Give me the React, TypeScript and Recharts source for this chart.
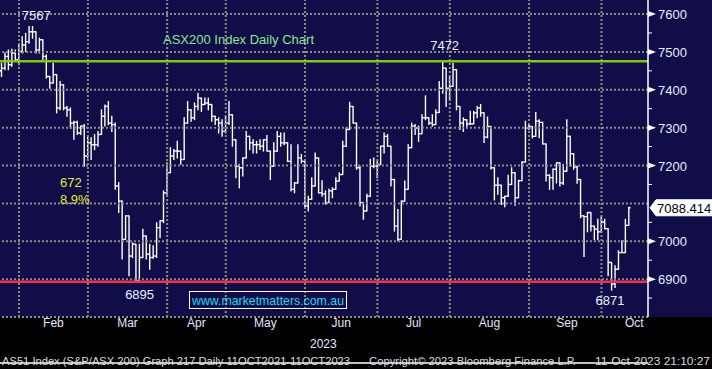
import React from 'react';
import { ComposedChart, Bar, XAxis, YAxis, ReferenceLine, ReferenceDot } from 'recharts';

const opens = [7450,7457,7488,7466,7497,7479,7501,7518,7527,7553,7553,7505,7532,7488,7435,7418,7440,7352,7413,7352,7347,7312,7314,7286,7304,7225,7260,7255,7255,7282,7330,7356,7312,7308,7146,7106,7005,7067,6961,6992,6895,6957,7014,6966,6957,6961,7036,7054,7128,7181,7225,7238,7238,7216,7312,7347,7326,7356,7378,7361,7365,7361,7330,7321,7312,7290,7312,7334,7268,7198,7194,7220,7277,7260,7255,7255,7251,7268,7238,7198,7238,7277,7260,7260,7211,7137,7154,7220,7211,7093,7111,7146,7220,7128,7125,7102,7133,7137,7159,7176,7251,7295,7356,7312,7194,7102,7080,7119,7198,7198,7203,7251,7277,7251,7163,7040,7005,7106,7137,7247,7304,7299,7284,7326,7326,7312,7308,7340,7404,7457,7404,7409,7453,7356,7312,7321,7310,7310,7339,7352,7339,7275,7303,7194,7148,7148,7115,7119,7150,7181,7115,7160,7209,7299,7303,7277,7317,7314,7257,7174,7168,7190,7207,7154,7185,7277,7231,7196,7163,7067,7065,7076,7040,7032,7025,7051,7033,6944,6887,6926,6970,6970,7042];
const highs = [7470,7497,7505,7507,7505,7518,7540,7549,7567,7567,7553,7536,7532,7492,7435,7470,7440,7422,7413,7356,7352,7317,7317,7304,7308,7277,7273,7282,7290,7347,7360,7369,7330,7312,7155,7106,7067,7067,6996,6992,6992,7032,7014,6992,6988,7049,7054,7133,7207,7247,7242,7264,7238,7326,7369,7347,7365,7391,7378,7378,7378,7361,7330,7326,7321,7330,7369,7334,7268,7203,7220,7290,7277,7268,7264,7268,7268,7279,7238,7260,7290,7286,7286,7260,7255,7154,7255,7229,7211,7119,7168,7233,7220,7160,7133,7137,7141,7168,7181,7264,7299,7367,7356,7312,7198,7102,7124,7216,7220,7211,7251,7286,7282,7251,7163,7084,7106,7159,7255,7312,7308,7304,7334,7384,7326,7334,7347,7422,7472,7457,7435,7470,7453,7356,7326,7321,7343,7343,7356,7361,7339,7328,7303,7194,7168,7148,7119,7174,7194,7181,7161,7210,7317,7308,7303,7340,7321,7314,7257,7176,7191,7207,7207,7203,7321,7277,7231,7198,7163,7067,7076,7076,7040,7058,7065,7058,7033,6944,6935,6975,7001,7058,7090];
const lows = [7435,7453,7453,7462,7475,7466,7497,7501,7523,7536,7497,7497,7479,7431,7404,7418,7339,7347,7347,7330,7299,7269,7282,7282,7198,7220,7216,7242,7251,7282,7304,7308,7290,7137,7076,6953,7005,6909,6957,6895,6895,6957,6953,6926,6955,6957,7010,7049,7124,7181,7216,7220,7203,7216,7312,7317,7321,7347,7343,7361,7347,7317,7308,7286,7277,7286,7308,7251,7168,7141,7172,7220,7242,7233,7233,7242,7238,7238,7163,7198,7238,7251,7255,7211,7133,7128,7154,7207,7089,7080,7111,7146,7128,7119,7098,7102,7115,7137,7159,7176,7251,7295,7312,7190,7093,7058,7080,7119,7194,7168,7203,7233,7251,7146,7027,7001,7005,7106,7137,7247,7282,7264,7284,7321,7308,7304,7308,7340,7391,7356,7374,7409,7347,7295,7290,7299,7308,7310,7326,7330,7261,7273,7191,7109,7124,7097,7091,7118,7150,7095,7115,7160,7209,7295,7273,7277,7273,7257,7159,7137,7137,7154,7146,7150,7185,7198,7190,7153,7062,6960,7025,7027,7004,7004,7023,7033,6909,6871,6878,6926,6970,6970,7042];
const closes = [7457,7488,7466,7497,7479,7501,7518,7527,7553,7553,7505,7532,7488,7435,7418,7440,7352,7413,7352,7347,7312,7314,7286,7304,7225,7260,7255,7255,7282,7330,7356,7312,7308,7146,7106,7005,7067,6961,6992,6895,6957,7014,6966,6957,6961,7036,7054,7128,7181,7225,7238,7238,7216,7312,7347,7326,7356,7378,7361,7365,7361,7330,7321,7312,7290,7312,7334,7268,7198,7194,7220,7277,7260,7255,7255,7251,7268,7238,7198,7238,7277,7260,7260,7211,7137,7154,7220,7211,7093,7111,7146,7220,7128,7125,7102,7133,7137,7159,7176,7251,7295,7356,7312,7194,7102,7080,7119,7198,7198,7203,7251,7277,7251,7163,7040,7005,7106,7137,7247,7304,7299,7284,7326,7326,7312,7308,7340,7404,7457,7404,7409,7453,7356,7312,7321,7310,7310,7339,7352,7339,7275,7303,7194,7148,7148,7115,7119,7150,7181,7115,7160,7209,7299,7303,7277,7317,7314,7257,7174,7168,7190,7207,7154,7185,7277,7231,7196,7163,7067,7065,7076,7040,7032,7025,7051,7033,6944,6887,6926,6970,6970,7042,7088.414];

const monthStarts = [5, 25, 48, 65, 88, 109, 130, 153, 174];
const monthLabelPos = [15, 36.5, 56.5, 76.5, 98.5, 119.5, 141.5, 164, 183.5];
const monthNames = ['Feb', 'Mar', 'Apr', 'May', 'Jun', 'Jul', 'Aug', 'Sep', 'Oct'];
const yMajor = [6800, 6900, 7000, 7100, 7200, 7300, 7400, 7500, 7600];
const yAxisTicks = [6850, 6900, 6950, 7000, 7050, 7100, 7150, 7200, 7250, 7300, 7350, 7400, 7450, 7500, 7550, 7600];
const resistance = 7475;
const support = 6893;
const lastValue = closes[closes.length - 1];

const data = closes.map((c, i) => ({
  i,
  open: opens[i],
  high: highs[i],
  low: lows[i],
  close: c,
  range: [lows[i], highs[i]],
}));

const FONT = '"Liberation Sans", Arial, sans-serif';

const OhlcShape = (props: any) => {
  const { x, y, width, height, payload } = props;
  if (x == null || y == null || !payload) return null;
  const top = Math.min(y, y + height);
  const h = Math.abs(height);
  const cx = x + width / 2;
  const span = payload.high - payload.low;
  const toY = (v: number) => (span === 0 ? top : top + ((payload.high - v) / span) * h);
  const t = 1.75;
  const yo = toY(payload.open);
  const yc = toY(payload.close);
  return (
    <g stroke="#ffffff" strokeWidth={1.4}>
      <line x1={cx} x2={cx} y1={top - 0.5} y2={top + h + 0.5} />
      <line x1={cx - t} x2={cx} y1={yo} y2={yo} />
      <line x1={cx} x2={cx + t} y1={yc} y2={yc} />
    </g>
  );
};

const YTick = (props: any) => {
  const { x, y, payload } = props;
  const v = payload.value;
  if (v === lastValue) {
    return (
      <g>
        <polygon
          points={`${x + 2},${y} ${x + 8},${y - 8} ${x + 64},${y - 8} ${x + 64},${y + 8} ${x + 8},${y + 8}`}
          fill="#ffffff"
          stroke="#ffffff"
        />
        <text x={x + 9} y={y + 5} fontSize={13} fill="#000" fontFamily={FONT}>
          {v.toFixed(3)}
        </text>
      </g>
    );
  }
  // ticks hidden behind the last-value box
  if (Math.abs(v - lastValue) < 25) return null;
  if (v % 100 === 0) {
    return (
      <g>
        <polygon points={`${x},${y - 3} ${x},${y + 3} ${x + 8},${y}`} fill="#ffffff" />
        <text x={x + 10} y={y + 5} fontSize={13} fill="#e6ecff" fontFamily={FONT}>
          {v}
        </text>
      </g>
    );
  }
  return <line x1={x} x2={x + 4} y1={y} y2={y} stroke="#ffffff" strokeWidth={1} />;
};

const MonthTick = (props: any) => {
  const { x, y, payload } = props;
  const idx = monthLabelPos.indexOf(payload.value);
  return (
    <text x={x} y={y + 9.5} textAnchor="middle" fontSize={12} fill="#e0e6ff" fontFamily={FONT}>
      {monthNames[idx]}
    </text>
  );
};

const dotted = { stroke: '#8c8c8c', strokeWidth: 2, strokeDasharray: '2 2' };

export default function App() {
  return (
    <div
      style={{
        position: 'absolute',
        left: 0,
        top: 0,
        width: 712,
        height: 369,
        background: 'linear-gradient(#100d48 0px, #100d48 317px, #000000 317px, #000000 369px)',
        overflow: 'hidden',
      }}
    >
      <ComposedChart width={712} height={369} data={data} margin={{ top: 0, right: 0, bottom: 0, left: 0 }}>
        <XAxis
          xAxisId="x"
          dataKey="i"
          type="number"
          domain={[-0.5, 187.5]}
          allowDataOverflow
          ticks={monthStarts}
          tick={false}
          tickSize={4}
          tickLine={{ stroke: '#ffffff' }}
          axisLine={{ stroke: '#ffffff', strokeWidth: 1.5 }}
          height={6}
        />
        <XAxis
          xAxisId="lbl"
          dataKey="i"
          type="number"
          domain={[-0.5, 187.5]}
          allowDataOverflow
          ticks={monthLabelPos}
          tick={<MonthTick />}
          tickSize={0}
          tickMargin={0}
          tickLine={false}
          axisLine={false}
          height={46}
        />
        <YAxis
          yAxisId="y"
          orientation="right"
          type="number"
          domain={[6800, 7637]}
          allowDataOverflow
          ticks={[...yAxisTicks, lastValue]}
          tick={<YTick />}
          tickSize={0}
          tickMargin={0}
          tickLine={false}
          axisLine={{ stroke: '#ffffff', strokeWidth: 1.5 }}
          width={64}
          interval={0}
        />
        {yMajor.map((v) => (
          <ReferenceLine key={'h' + v} xAxisId="x" yAxisId="y" y={v} {...dotted} />
        ))}
        {monthStarts.map((v) => (
          <ReferenceLine key={'v' + v} xAxisId="x" yAxisId="y" x={v} {...dotted} />
        ))}
        <ReferenceLine xAxisId="x" yAxisId="y" y={resistance} stroke="#80cc00" strokeWidth={2.5} />
        <ReferenceLine xAxisId="x" yAxisId="y" y={support} stroke="#ff2a4a" strokeWidth={2.5} />
        <Bar
          xAxisId="x"
          yAxisId="y"
          dataKey="range"
          barSize={3}
          isAnimationActive={false}
          shape={(p: any) => <OhlcShape {...p} />}
        />
        <ReferenceDot
          xAxisId="x"
          yAxisId="y"
          x={10}
          y={7567}
          r={0}
          fill="none"
          stroke="none"
          label={{ value: '7567', position: 'top', offset: 7, fill: '#e8f0ff', fontSize: 13, fontFamily: FONT }}
        />
        <ReferenceDot
          xAxisId="x"
          yAxisId="y"
          x={128.5}
          y={7472}
          r={0}
          fill="none"
          stroke="none"
          label={{ value: '7472', position: 'top', offset: 12, fill: '#e8f0ff', fontSize: 13, fontFamily: FONT }}
        />
        <ReferenceDot
          xAxisId="x"
          yAxisId="y"
          x={40}
          y={6895}
          r={0}
          fill="none"
          stroke="none"
          label={{ value: '6895', position: 'bottom', offset: 9, fill: '#e8f0ff', fontSize: 13, fontFamily: FONT }}
        />
        <ReferenceDot
          xAxisId="x"
          yAxisId="y"
          x={176.5}
          y={6871}
          r={0}
          fill="none"
          stroke="none"
          label={{ value: '6871', position: 'bottom', offset: 6, fill: '#e8f0ff', fontSize: 13, fontFamily: FONT }}
        />
      </ComposedChart>
      <svg
        width={712}
        height={369}
        style={{ position: 'absolute', left: 0, top: 0, pointerEvents: 'none' }}
        fontFamily={FONT}
      >
        <text x={163} y={44} fontSize={13} fill="#8fe48f">ASX200 Index Daily Chart</text>
        <text x={60} y={187} fontSize={13} fill="#e8e82a">672</text>
        <text x={60} y={204} fontSize={13} fill="#e8e82a">8.9%</text>
        <rect x={189.5} y={291.5} width={157} height={17} fill="none" stroke="#ffffff" strokeWidth={1} />
        <text x={192} y={305} fontSize={13} fill="#1cd8f0" textLength={152} lengthAdjust="spacingAndGlyphs">
          www.marketmatters.com.au
        </text>
        <text x={310} y={348} fontSize={12} fill="#e0e6ff">2023</text>
        <text x={2} y={365} fontSize={11.5} fill="#dcdcdc" textLength={348} lengthAdjust="spacingAndGlyphs">
          AS51 Index (S&amp;P/ASX 200) Graph 217  Daily 11OCT2021-11OCT2023
        </text>
        <text x={369} y={365} fontSize={11.5} fill="#dcdcdc" textLength={207} lengthAdjust="spacingAndGlyphs">
          Copyright© 2023 Bloomberg Finance L.P.
        </text>
        <text x={595} y={365} fontSize={11.5} fill="#dcdcdc" textLength={115} lengthAdjust="spacingAndGlyphs">
          11-Oct-2023 21:10:27
        </text>
      </svg>
    </div>
  );
}
